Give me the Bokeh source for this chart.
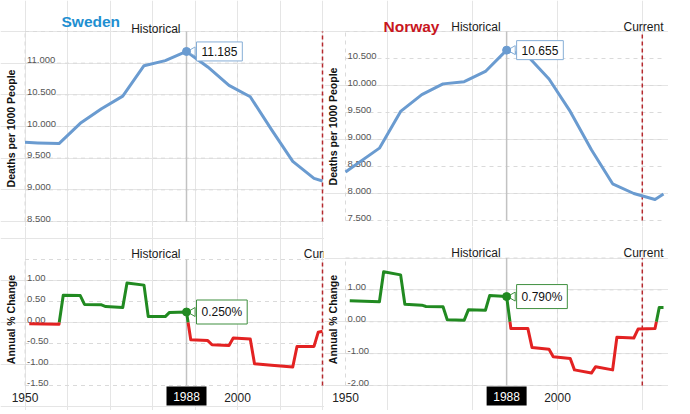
import math
from bokeh.plotting import figure
from bokeh.models import Range1d, Label
from bokeh.layouts import row, column
from bokeh.core.properties import value
from bokeh.embed import file_html
from bokeh.resources import INLINE

FONT = "Liberation Sans"

# ---------------- data ----------------
sw_years = [1950, 1953, 1958, 1963, 1968, 1973, 1978, 1983, 1988, 1993, 1998, 2003, 2008, 2013, 2018, 2020]
sw_rate = [9.75, 9.74, 9.73, 10.05, 10.28, 10.48, 10.96, 11.04, 11.185, 10.94, 10.65, 10.47, 9.95, 9.45, 9.18, 9.14]

sw_chg_years = [1951, 1958, 1959, 1963, 1964, 1968, 1969, 1973, 1974, 1978, 1979, 1983, 1984, 1988,
                1989, 1993, 1994, 1998, 1999, 2003, 2004, 2008, 2013, 2014, 2018, 2019, 2020]
sw_chg = [-0.03, -0.04, 0.65, 0.64, 0.43, 0.42, 0.38, 0.36, 0.94, 0.89, 0.14, 0.14, 0.24, 0.25,
          -0.41, -0.43, -0.53, -0.55, -0.37, -0.39, -0.98, -1.02, -1.06, -0.57, -0.57, -0.23, -0.21]

no_years = [1950, 1958, 1963, 1968, 1973, 1978, 1983, 1988, 1993, 1998, 2003, 2008, 2013, 2018, 2023, 2025]
no_rate = [8.40, 8.84, 9.52, 9.83, 10.03, 10.07, 10.26, 10.655, 10.54, 10.12, 9.52, 8.81, 8.18, 8.00, 7.89, 7.99]

no_chg_years = [1951, 1958, 1959, 1963, 1964, 1968, 1969, 1973, 1974, 1978, 1979, 1983, 1984, 1988,
                1989, 1993, 1994, 1998, 1999, 2003, 2004, 2008, 2009, 2013, 2014, 2018, 2019, 2023, 2024, 2025]
no_chg = [0.66, 0.63, 1.57, 1.47, 0.55, 0.52, 0.48, 0.47, 0.06, 0.05, 0.38, 0.36, 0.82, 0.79,
          -0.21, -0.21, -0.81, -0.86, -1.10, -1.15, -1.51, -1.61, -1.41, -1.51, -0.49, -0.51, -0.23, -0.21, 0.45, 0.45]

first_year = 1950
last_year = 2025
hover_year = 1988
current_year = 2020
x_grid_years = [1950, 2000]
x_tick_years = [1950, 2000]
x_tick_labels = ["1950", "2000"]

sw_top_ticks = [8.5, 9.0, 9.5, 10.0, 10.5, 11.0, 11.5]
sw_top_labels = ["8.500", "9.000", "9.500", "10.000", "10.500", "11.000"]
sw_bot_ticks = [-1.5, -1.0, -0.5, 0.0, 0.5, 1.0, 1.5]
sw_bot_labels = ["-1.50", "-1.00", "-0.50", "0.00", "0.50", "1.00"]

no_top_ticks = [7.5, 8.0, 8.5, 9.0, 9.5, 10.0, 10.5, 11.0]
no_top_labels = ["7.500", "8.000", "8.500", "9.000", "9.500", "10.000", "10.500"]
no_bot_ticks = [-2.0, -1.0, 0.0, 1.0, 2.0]
no_bot_labels = ["-2.00", "-1.00", "0.00", "1.00"]

BLUE = "#6a9bd0"
GREEN = "#218a21"
RED = "#e32222"
GRID = "#dadada"
CROSS = "#c2c2c2"
CURR = "#b5282e"
TXT = "#1a1a1a"


class Geo:
    """Pixel layout of one panel: maps pixel positions to the data ranges of the frame."""

    def __init__(self, left, width, top, height, xv0, xp0, xv1, xp1, yv0, yp0, yv1, yp1):
        self.left, self.width, self.top, self.height = left, width, top, height
        self.kx = (xp1 - xp0) / (xv1 - xv0)
        self.x_start = xv0 - (xp0 - left) / self.kx
        self.x_end = self.x_start + width / self.kx
        self.ky = (yp0 - yp1) / (yv1 - yv0)
        self.y_start = yv0 - (top + height - yp0) / self.ky
        self.y_end = self.y_start + height / self.ky

    def x(self, px):
        return self.x_start + (px - self.left) / self.kx

    def y(self, py):
        return self.y_start + (self.top + self.height - py) / self.ky

    def px(self, x):
        return self.left + (x - self.x_start) * self.kx


def split_sign(xs, ys):
    pos, neg = [], []
    cx, cy = [xs[0]], [ys[0]]
    cur = ys[0] >= 0
    for i in range(1, len(xs)):
        x0, y0, x1, y1 = xs[i - 1], ys[i - 1], xs[i], ys[i]
        s = y1 >= 0
        if s != cur:
            xc = x0 + (x1 - x0) * (0 - y0) / (y1 - y0)
            cx.append(xc)
            cy.append(0.0)
            (pos if cur else neg).append((cx, cy))
            cx, cy = [xc], [0.0]
            cur = s
        cx.append(x1)
        cy.append(y1)
    (pos if cur else neg).append((cx, cy))
    return pos, neg


def txt(p, x, y, s, size="12px", color=TXT, align="left", baseline="alphabetic", style="normal",
        angle=0.0, x_offset=0):
    p.text(x=[x], y=[y], text=[s], text_font=value(FONT), text_font_size=size, text_color=color,
           text_align=align, text_baseline=baseline, text_font_style=style, angle=angle, x_offset=x_offset)


def make_fig(g, yticks, ylabels, ytitle, ytitle_px, header_py, current):
    p = figure(width=g.width, height=g.height, x_range=Range1d(g.x_start, g.x_end),
               y_range=Range1d(g.y_start, g.y_end), x_axis_location=None, y_axis_location=None,
               toolbar_location=None, output_backend="svg", title=None,
               min_border_left=0, min_border_right=0, min_border_top=0, min_border_bottom=0)
    p.outline_line_color = None
    p.background_fill_color = "white"
    p.border_fill_color = "white"
    ylo, yhi = yticks[0], yticks[-1]
    # grid lines limited to the chart area
    n = len(yticks)
    p.segment(x0=[first_year] * n, y0=yticks, x1=[last_year] * n, y1=yticks,
              line_color=GRID, line_dash="4 4", line_width=1)
    m = len(x_grid_years)
    p.segment(x0=x_grid_years, y0=[ylo] * m, x1=x_grid_years, y1=[yhi] * m,
              line_color=GRID, line_dash="4 4", line_width=1)
    # tick labels inside the chart
    p.text(x=[first_year] * len(ylabels), y=yticks[:len(ylabels)], text=ylabels,
           text_font=value(FONT), text_font_size="9.5px", text_color="#555555",
           text_baseline="bottom", text_align="left", x_offset=2)
    # axis title (rotated)
    txt(p, g.x(ytitle_px[0]), g.y(ytitle_px[1]), ytitle, size="10.5px", color="#111111",
        align="center", baseline="middle", style="bold", angle=math.pi / 2)
    # crosshair and "current" marker
    p.segment(x0=[hover_year], y0=[ylo], x1=[hover_year], y1=[yhi], line_color=CROSS, line_width=1.5)
    p.segment(x0=[current_year], y0=[ylo], x1=[current_year], y1=[yhi], line_color=CURR,
              line_width=1.5, line_dash="4 3")
    txt(p, hover_year, g.y(header_py), "Historical", align="right", x_offset=-6)
    if current:
        txt(p, last_year, g.y(header_py), "Current", align="right")
    return p


def tooltip(p, g, x, y, s, border):
    # small pointer of the callout box, then the box itself
    p.scatter([g.x(g.px(x) + 6)], [y], marker="triangle", angle=math.pi / 2, size=9,
              fill_color="white", line_color=border, line_width=1)
    p.add_layout(Label(x=x, y=y, x_offset=10, text=s, text_align="left", text_baseline="middle",
                       text_font=FONT, text_font_size="12px", text_color="#111111",
                       border_line_color=border, border_line_width=1,
                       background_fill_color="white", padding=5))


def top_chart(g, years, rate, yticks, ylabels, hover_val, title, tcolor, title_px, header_py, ytitle_px,
              current):
    p = make_fig(g, yticks, ylabels, "Deaths per 1000 People", ytitle_px, header_py, current)
    p.line(years, rate, line_color=BLUE, line_width=3, line_join="round")
    tooltip(p, g, hover_year, hover_val, f"{hover_val:.3f}", "#86aed6")
    p.scatter([hover_year], [hover_val], size=8, color=BLUE)
    txt(p, g.x(title_px[0]), g.y(title_px[1]), title, size="15.5px", color=tcolor, style="bold")
    return p


def bottom_chart(g, years, chg, yticks, ylabels, header_py, ytitle_px, xlab_py, box_py):
    p = make_fig(g, yticks, ylabels, "Annual % Change", ytitle_px, header_py, True)
    pos, neg = split_sign(years, chg)
    p.multi_line([r[0] for r in pos], [r[1] for r in pos], line_color=GREEN, line_width=3, line_join="round")
    p.multi_line([r[0] for r in neg], [r[1] for r in neg], line_color=RED, line_width=3, line_join="round")
    hv = chg[years.index(hover_year)]
    tooltip(p, g, hover_year, hv, f"{hv:.3f}%", "#3f8f3f")
    p.scatter([hover_year], [hv], size=8, color=GREEN)
    # x tick labels
    p.text(x=x_tick_years, y=[g.y(xlab_py)] * len(x_tick_years), text=x_tick_labels,
           text_font=value(FONT), text_font_size="12px", text_color="#222222",
           text_align="center", text_baseline="middle")
    # crosshair year box
    p.rect(x=[hover_year], y=[g.y(box_py)], width=40, height=19, width_units="screen",
           height_units="screen", fill_color="black", line_color=None)
    p.text(x=[hover_year], y=[g.y(box_py)], text=[str(hover_year)], text_font=value(FONT),
           text_font_size="12px", text_color="white", text_align="center", text_baseline="middle")
    return p


# panel geometry (pixels within the picture)
g_sw_top = Geo(2, 324, 2, 226, 1950, 26.5, 1988, 188, 8.5, 223, 11.5, 33)
g_sw_bot = Geo(2, 324, 228, 184, 1950, 26.5, 1988, 188, -1.5, 387, 1.5, 261)
g_no_top = Geo(326, 344, 2, 226, 1950, 347, 2025, 665, 7.5, 222, 11.0, 33)
g_no_bot = Geo(326, 344, 228, 184, 1950, 347, 2025, 665, -2.0, 387, 2.0, 259.5)

sw_top = top_chart(g_sw_top, sw_years, sw_rate, sw_top_ticks, sw_top_labels, 11.185, "Sweden", "#1e8fd1",
                   (63, 23), 30, (12, 130), False)
sw_bot = bottom_chart(g_sw_bot, sw_chg_years, sw_chg, sw_bot_ticks, sw_bot_labels, 255, (12, 321), 399, 397.5)
no_top = top_chart(g_no_top, no_years, no_rate, no_top_ticks, no_top_labels, 10.655, "Norway", "#c8161e",
                   (385, 28), 28, (334, 128), True)
no_bot = bottom_chart(g_no_bot, no_chg_years, no_chg, no_bot_ticks, no_bot_labels, 254, (334, 321), 399, 397.5)

layout = row(column(sw_top, sw_bot), column(no_top, no_bot))
open("out.html", "w").write(file_html(layout, INLINE))
